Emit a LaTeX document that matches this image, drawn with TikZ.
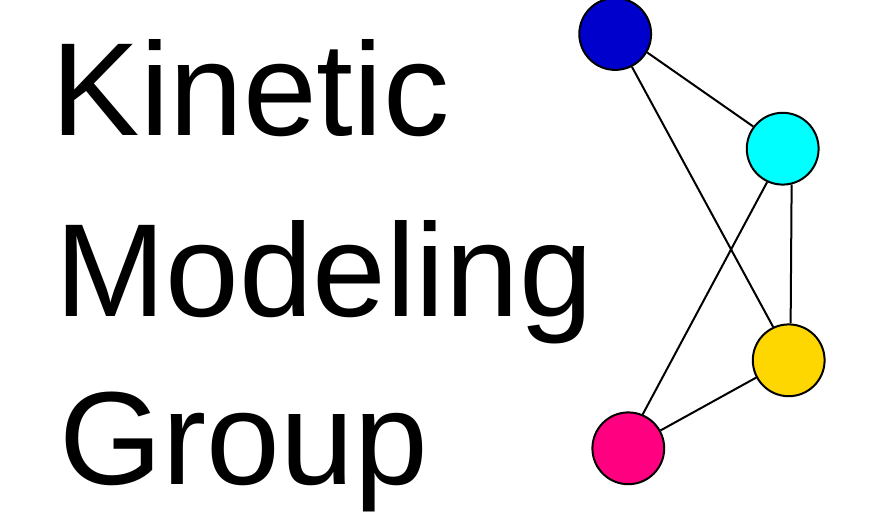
\documentclass[tikz,border=0pt]{standalone}
\usepackage{fontspec}
\setmainfont{Liberation Sans}
\definecolor{cblue}{RGB}{0,0,205}
\definecolor{ccyan}{RGB}{0,255,255}
\definecolor{cgold}{RGB}{255,215,0}
\definecolor{cpink}{RGB}{255,0,128}
\tikzset{
 px/.style={x=1pt,y=-1pt},
 ball/.style={circle,draw=black,line width=2pt,minimum size=71.8pt,inner sep=0pt},
 link/.style={draw=black,line width=2pt},
 word/.style={anchor=base west,inner sep=0pt,font=\fontsize{132.5}{132.5}\selectfont}
}
\begin{document}
\begin{tikzpicture}[px]
\useasboundingbox (0,0) rectangle (875,516);
\node[ball,fill=cblue] (a) at (615.2,34) {};
\node[ball,fill=ccyan] (b) at (782.7,148.7) {};
\node[ball,fill=cgold] (c) at (788.7,360.3) {};
\node[ball,fill=cpink] (d) at (628.3,448.3) {};
\draw[link] (a.-30.7) -- (b.143.2);
\draw[link] (a.-63.3) -- (c.115);
\draw[link] (b.-115.9) -- (d.67.2);
\draw[link] (b.-76.3) -- (c.87.5);
\draw[link] (c.-152.2) -- (d.29.5);
\node[word] (k) at (51.5,135.7) {Kinetic};
\node[word] (m) at (55,316.7) {Modeling};
\node[word] (g) at (59.5,484) {Group};
\end{tikzpicture}
\end{document}
